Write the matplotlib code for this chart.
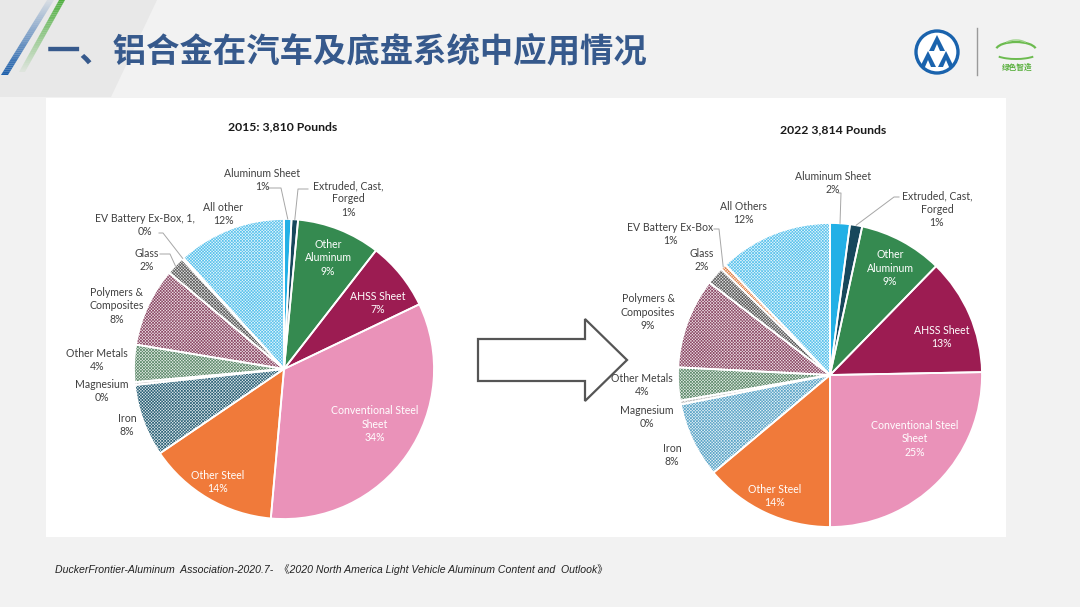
import numpy as np
import matplotlib
matplotlib.use("Agg")
import matplotlib.pyplot as plt
from matplotlib.patches import Rectangle, Polygon, Wedge, Circle, Arc

# --- data ---
labels_2015 = ["Aluminum Sheet", "Extruded, Cast,\nForged", "Other\nAluminum", "AHSS Sheet",
               "Conventional Steel\nSheet", "Other Steel", "Iron", "Magnesium", "Other Metals",
               "Polymers &\nComposites", "Glass", "EV Battery Ex-Box, 1,", "All other"]
share_2015 = [0.8, 0.7, 9.0, 7.4, 33.5, 14.1, 7.8, 0.3, 4.0, 8.5, 2.0, 0.2, 11.7]
pct_2015 = ["1%", "1%", "9%", "7%", "34%", "14%", "8%", "0%", "4%", "8%", "2%", "0%", "12%"]

labels_2022 = ["Aluminum Sheet", "Extruded, Cast,\nForged", "Other\nAluminum", "AHSS Sheet",
               "Conventional Steel\nSheet", "Other Steel", "Iron", "Magnesium", "Other Metals",
               "Polymers &\nComposites", "Glass", "EV Battery Ex-Box", "All Others"]
share_2022 = [2.1, 1.3, 8.9, 12.4, 25.3, 13.9, 8.0, 0.4, 3.5, 9.6, 1.9, 0.6, 12.1]
pct_2022 = ["2%", "1%", "9%", "13%", "25%", "14%", "8%", "0%", "4%", "9%", "2%", "1%", "12%"]

title_2015 = "2015: 3,810 Pounds"
title_2022 = "2022 3,814 Pounds"
slide_title = "一、铝合金在汽车及底盘系统中应用情况"
source = ("DuckerFrontier-Aluminum  Association-2020.7-  《2020 North America Light Vehicle "
          "Aluminum Content and  Outlook》")

# --- styles: (face, hatch colour or None) ---
solid = [("#22b0e6", None), ("#17485c", None), ("#358a50", None), ("#9c1c52", None),
         ("#ea92b9", None), ("#f07a3a", None)]
style_2015 = solid + [("#e4ecef", "#2f6479"), ("#f5f5f5", "#bcbcbc"), ("#e8efea", "#5f8b6c"),
                      ("#f0e4e9", "#8d4c68"), ("#e6e6e6", "#5c5c5c"), ("#f5f5f5", "#9a9a9a"),
                      ("#e9f7fd", "#5cc3ec")]
style_2022 = solid + [("#e8f3f8", "#5ea6c8"), ("#f5f5f5", "#bcbcbc"), ("#e8efea", "#5f8b6c"),
                      ("#f0e4e9", "#8d4c68"), ("#e6e6e6", "#5c5c5c"), ("#fcefe6", "#e2824a"),
                      ("#e9f7fd", "#5cc3ec")]
inside = [2, 3, 4, 5]

# label centres in slide pixels
pos_2015 = [(262, 180), (348, 199), (328, 258), (378, 303), (375, 424), (218, 482), (127, 425),
            (102, 391), (97, 360), (117, 306), (147, 260), (145, 225), (223, 214)]
pos_2022 = [(833, 183), (937, 209), (890, 268), (942, 337), (915, 439), (775, 496), (672, 455),
            (647, 417), (642, 385), (648, 312), (702, 260), (670, 234), (743, 213)]
# leader lines: wedge index -> (start, elbow) in slide pixels
lead_2015 = {0: [(268, 188), (281, 188)], 1: [(308, 189), (298, 189)],
             10: [(160, 254), (170, 254)], 11: [(159, 233), (163, 233)]}
lead_2022 = {0: [(838, 193), (841, 193)], 1: [(899, 197), (894, 197)],
             11: [(714, 229), (719, 229)]}

W, H = 1080, 607
plt.rcParams["hatch.linewidth"] = 0.5
fig = plt.figure(figsize=(W / 100, H / 100), dpi=100)
fig.patch.set_facecolor("#f2f2f2")

bg = fig.add_axes([0, 0, 1, 1])
bg.set_xlim(0, W)
bg.set_ylim(H, 0)
bg.axis("off")

# header decorations
bg.add_patch(Polygon([(0, 0), (157, 0), (111, 97), (0, 97)], closed=True, fc="#e8e8e8", ec="none"))
n = 40
for k in range(n):
    t0, t1 = k / n, (k + 1) / n
    # blue stripe: dark at bottom, fading to the top
    x0b, x1b = 1 + 46 * t0, 1 + 46 * t1
    y0, y1 = 75 - 75 * t0, 75 - 75 * t1
    bg.add_patch(Polygon([(x0b, y0), (x0b + 7, y0), (x1b + 7, y1), (x1b, y1)],
                         fc="#1d5fab", ec="none", alpha=max(0.06, 1 - t0 * 0.94)))
    # green stripe: bright at top, fading to the bottom
    x0g, x1g = 19 + 40 * t0, 19 + 40 * t1
    y0g, y1g = 72 - 72 * t0, 72 - 72 * t1
    bg.add_patch(Polygon([(x0g, y0g), (x0g + 6, y0g), (x1g + 6, y1g), (x1g, y1g)],
                         fc="#4cae3c", ec="none", alpha=0.06 + 0.94 * t0))

bg.text(47, 52, slide_title, fontsize=24, fontweight="bold", color="#36598c",
        family=["Noto Sans CJK SC", "DejaVu Sans"], va="center", ha="left")

# logos
bg.add_patch(Circle((937, 52), 21, fc="white", ec="#1a63ad", lw=2.4))
for ax_, ay in [(937, 35), (928, 51), (946, 51)]:
    bg.add_patch(Polygon([(ax_, ay), (ax_ - 8, ay + 16), (ax_ + 8, ay + 16)], fc="#1a63ad", ec="none"))
    bg.add_patch(Polygon([(ax_, ay + 9), (ax_ - 3, ay + 16), (ax_ + 3, ay + 16)], fc="white", ec="none"))
bg.plot([977, 977], [28, 75], color="#9a9a9a", lw=1)
bg.add_patch(Arc((1016, 50), 40, 16, theta1=185, theta2=355, color="#6cbb4f", lw=1.6))
bg.add_patch(Arc((1016, 52), 46, 14, theta1=15, theta2=165, color="#6cbb4f", lw=1.4))
bg.add_patch(Arc((1016, 46), 24, 12, theta1=200, theta2=340, color="#9fd38b", lw=1.0))
bg.text(1017, 67, "绿色智造", fontsize=5.5, color="#5bb040", ha="center", va="center",
        family=["Noto Sans CJK SC", "DejaVu Sans"], fontweight="bold")

# white panel and arrow
bg.add_patch(Rectangle((46, 98), 960, 439, fc="white", ec="none"))
bg.add_patch(Polygon([(478, 339), (585, 339), (585, 319), (627, 360), (585, 401), (585, 381), (478, 381)],
                     closed=True, fc="white", ec="#555555", lw=1.6))

bg.text(55, 570, source, fontsize=7.6, style="italic", color="#222222",
        family=["Liberation Sans", "Noto Sans CJK SC"], va="center", ha="left")


def draw_pie(cx, cy, r, values, labels, pcts, styles, pos, leads, title, title_xy):
    S = 440
    ax = fig.add_axes([(cx - S / 2) / W, (H - cy - S / 2) / H, S / W, S / H])
    ax.patch.set_alpha(0)
    wedges, _ = ax.pie(values, startangle=90, counterclock=False, radius=1)
    lim = S / 2 / r
    ax.set_xlim(-lim, lim)
    ax.set_ylim(-lim, lim)
    ax.set_aspect("equal")
    ax.axis("off")

    def p2d(px, py):
        return (px - cx) / r, (cy - py) / r

    for i, w in enumerate(wedges):
        face, hc = styles[i]
        w.set_facecolor(face)
        if hc:
            w.set_hatch("x" * 11)
            w.set_edgecolor(hc)
        else:
            w.set_edgecolor(face)
        w.set_linewidth(0)
        ax.add_patch(Wedge(w.center, w.r, w.theta1, w.theta2, fc="none", ec="white", lw=1.3))

        x, y = p2d(*pos[i])
        txt = labels[i] + "\n" + pcts[i]
        col = "white" if i in inside else "#404040"
        ax.text(x, y, txt, ha="center", va="center", fontsize=7.6, color=col,
                family="Lato", linespacing=1.25)

        if i in leads:
            mid = np.deg2rad((w.theta1 + w.theta2) / 2)
            pts = [p2d(*p) for p in leads[i]] + [(np.cos(mid), np.sin(mid))]
            ax.plot([p[0] for p in pts], [p[1] for p in pts], color="#a6a6a6", lw=0.7,
                    clip_on=False)

    tx, ty = p2d(*title_xy)
    ax.text(tx, ty, title, ha="center", va="center", fontsize=8.8, fontweight="bold",
            color="#1a1a1a", family="Lato")


draw_pie(284, 369, 150, share_2015, labels_2015, pct_2015, style_2015, pos_2015, lead_2015,
         title_2015, (283, 127))
draw_pie(830, 375, 152, share_2022, labels_2022, pct_2022, style_2022, pos_2022, lead_2022,
         title_2022, (833, 130))

fig.savefig("out.png", dpi=100, facecolor=fig.get_facecolor())
